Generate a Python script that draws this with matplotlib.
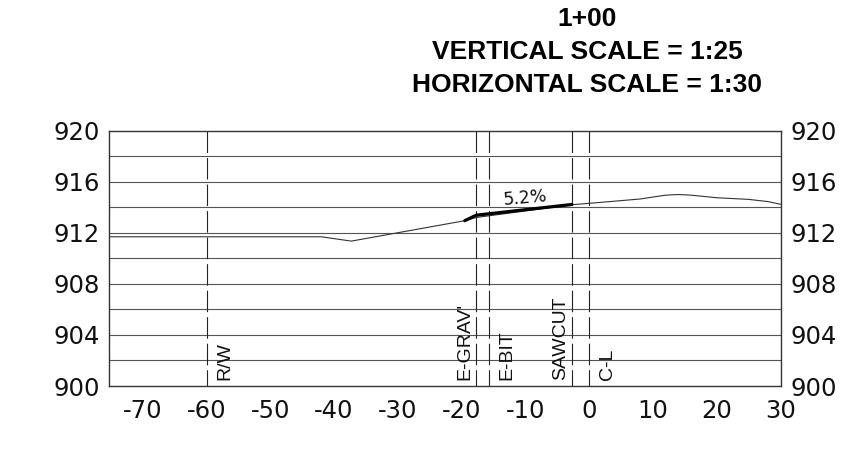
import matplotlib
matplotlib.use("Agg")
import matplotlib.pyplot as plt

# ---- data ----
ground_x = [-75.3, -42.0, -37.3, -19.5, -17.7, -2.7, 1.7, 8.0, 12.0, 14.0, 16.0, 20.0, 25.0, 28.0, 30.1]
ground_y = [911.69, 911.69, 911.35, 912.95, 913.2, 914.2, 914.38, 914.65, 914.95, 915.0, 914.95, 914.75, 914.62, 914.45, 914.23]

surface_x = [-19.5, -17.7, -2.7]
surface_y = [912.95, 913.38, 914.22]

marker_x = [-60.0, -17.7, -15.7, -2.7, 0.0]
marker_labels = ["R/W", "E-GRAV'", "E-BIT", "SAWCUT", "C-L"]
marker_side = ["right", "left", "right", "left", "right"]

slope_label = "5.2%"
slope_label_x = -10.0
slope_label_y = 914.75

x_ticks = [-70, -60, -50, -40, -30, -20, -10, 0, 10, 20, 30]
y_ticks = [900, 904, 908, 912, 916, 920]
grid_levels = [902, 904, 906, 908, 910, 912, 914, 916, 918]

title_lines = ["1+00", "VERTICAL SCALE = 1:25", "HORIZONTAL SCALE = 1:30"]

# ---- figure ----
plt.rcParams["lines.scale_dashes"] = False
plt.rcParams["axes.unicode_minus"] = False
fig = plt.figure(figsize=(8.64, 4.61), dpi=100)
ax = fig.add_axes([109 / 864, 75 / 461, (781 - 109) / 864, (386 - 130.7) / 461])
ax.set_xlim(-75.3, 30.1)
ax.set_ylim(900, 920)

for g in grid_levels:
    ax.axhline(g, color="#555555", lw=0.8, zorder=1)

for xv, lab, side in zip(marker_x, marker_labels, marker_side):
    ax.plot([xv, xv], [920, 900], color="#222222", lw=0.8,
            linestyle=(0, (15.5, 3.6)), zorder=2)
    dx = 1.5 if side == "right" else -0.45
    ax.text(xv + dx, 900.45, lab, rotation=90, ha="right" if side == "left" else "left",
            va="bottom", fontsize=14, family="Liberation Sans", color="#111111")

ax.plot(ground_x, ground_y, color="#333333", lw=0.8, zorder=3)
ax.plot(surface_x, surface_y, color="black", lw=2.3, solid_capstyle="round", zorder=4)
ax.text(slope_label_x, slope_label_y, slope_label, fontsize=12.5, rotation=5,
        ha="center", va="center", family="DejaVu Sans", color="#111111")

ax.set_xticks(x_ticks)
ax.set_yticks(y_ticks)
ax.tick_params(axis="both", length=0, labelsize=17.5, colors="#111111")
ax.tick_params(axis="y", labelright=True, pad=6.5)
ax.tick_params(axis="x", pad=9)
for s in ax.spines.values():
    s.set_color("#333333")
    s.set_linewidth(1.0)

ys = [0.958, 0.887, 0.815]
for t, yy in zip(title_lines, ys):
    fig.text(587 / 864, yy, t, ha="center", va="center", fontsize=19,
             fontweight="bold", family="Liberation Sans")

fig.savefig("out.png", dpi=100)
